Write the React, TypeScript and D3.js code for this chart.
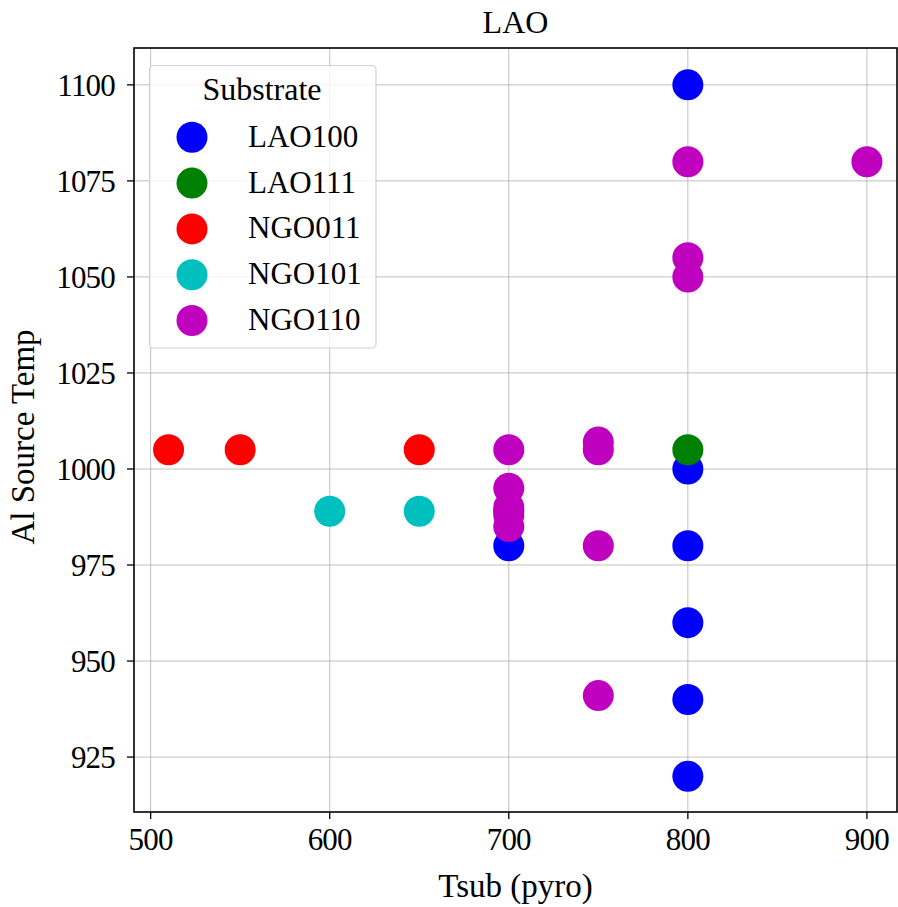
import React from "react";
import * as d3 from "d3";

const seriesNames = ["LAO100", "LAO111", "NGO011", "NGO101", "NGO110"];
const seriesColors = ["#0000ff", "#008000", "#ff0000", "#00bfbf", "#bf00bf"];

const lao100X = [700, 700, 800, 800, 800, 800, 800, 800];
const lao100Y = [989, 980, 1100, 1000, 980, 960, 940, 920];
const lao111X = [800];
const lao111Y = [1005];
const ngo011X = [510, 550, 650];
const ngo011Y = [1005, 1005, 1005];
const ngo101X = [600, 650];
const ngo101Y = [989, 989];
const ngo110X = [700, 700, 700, 700, 700, 750, 750, 750, 750, 800, 800, 800, 900];
const ngo110Y = [1005, 995, 990, 988, 985, 1007, 1005, 980, 941, 1080, 1055, 1050, 1080];

const xTicks = [500, 600, 700, 800, 900];
const yTicks = [925, 950, 975, 1000, 1025, 1050, 1075, 1100];

const seriesX = [lao100X, lao111X, ngo011X, ngo101X, ngo110X];
const seriesY = [lao100Y, lao111Y, ngo011Y, ngo101Y, ngo110Y];

export default function App() {
  const W = 898, H = 907;
  const L = 134, R = 897, T = 48, B = 812;
  const x = d3.scaleLinear().domain([490.7, 916.8]).range([L, R]);
  const y = d3.scaleLinear().domain([910.7, 1109.6]).range([B, T]);
  const font = "'Liberation Serif', 'DejaVu Serif', serif";
  const r = 15.5;
  return (
    <svg width={W} height={H} style={{ position: "absolute", left: 0, top: 0 }} fontFamily={font}>
      <rect x={0} y={0} width={W} height={H} fill="#fff" />
      {xTicks.map((t) => (
        <line key={"gx" + t} x1={x(t)} x2={x(t)} y1={T} y2={B} stroke="#b0b0b0" strokeWidth={0.8} />
      ))}
      {yTicks.map((t) => (
        <line key={"gy" + t} x1={L} x2={R} y1={y(t)} y2={y(t)} stroke="#b0b0b0" strokeWidth={0.8} />
      ))}
      {seriesNames.map((n, i) => (
        <g key={n}>
          {seriesX[i].map((vx, j) => (
            <circle key={j} cx={x(vx)} cy={y(seriesY[i][j])} r={r} fill={seriesColors[i]} />
          ))}
        </g>
      ))}
      <rect x={L} y={T} width={R - L} height={B - T} fill="none" stroke="#000" strokeWidth={1.6} />
      {xTicks.map((t) => (
        <g key={"tx" + t}>
          <line x1={x(t)} x2={x(t)} y1={B} y2={B + 7} stroke="#000" strokeWidth={1.3} />
          <text x={x(t)} y={B + 38} textAnchor="middle" fontSize={31} letterSpacing={-0.8}>{t}</text>
        </g>
      ))}
      {yTicks.map((t) => (
        <g key={"ty" + t}>
          <line x1={L - 7} x2={L} y1={y(t)} y2={y(t)} stroke="#000" strokeWidth={1.3} />
          <text x={L - 19} y={y(t) + 11} textAnchor="end" fontSize={31} letterSpacing={-0.8}>{t}</text>
        </g>
      ))}
      <text x={(L + R) / 2} y={33} textAnchor="middle" fontSize={32}>LAO</text>
      <text x={(L + R) / 2} y={897} textAnchor="middle" fontSize={33}>Tsub (pyro)</text>
      <text transform={`translate(34,437) rotate(-90)`} textAnchor="middle" fontSize={33}>Al Source Temp</text>
      <rect x={149.5} y={65.5} width={226.5} height={282.5} rx={4} fill="#fff" fillOpacity={0.8} stroke="#d0d0d0" strokeWidth={1.2} />
      <text x={262} y={100} textAnchor="middle" fontSize={32}>Substrate</text>
      {seriesNames.map((n, i) => (
        <g key={"lg" + n}>
          <circle cx={192} cy={137.3 + i * 45.8} r={r} fill={seriesColors[i]} />
          <text x={248} y={137.3 + i * 45.8 + 9.5} fontSize={31}>{n}</text>
        </g>
      ))}
    </svg>
  );
}
